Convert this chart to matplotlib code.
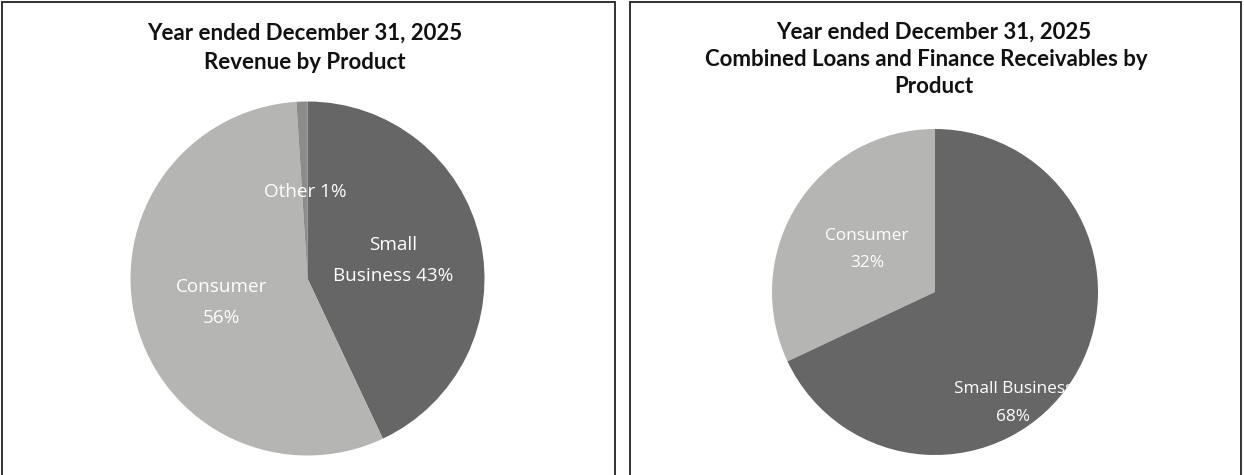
import matplotlib
matplotlib.use("Agg")
import matplotlib.pyplot as plt
from matplotlib.patches import Rectangle

# ---- data ----
rev_labels = ["Small\nBusiness 43%", "Consumer\n56%", "Other 1%"]
rev_values = [43, 56, 1]
rev_colors = ["#666666", "#B5B5B3", "#8C8C8C"]

loan_labels = ["Consumer\n32%", "Small Business\n68%"]
loan_values = [32, 68]
loan_colors = ["#B5B5B3", "#666666"]

title_left = ["Year ended December 31, 2025", "Revenue by Product"]
title_right = ["Year ended December 31, 2025",
               "Combined Loans and Finance Receivables by",
               "Product"]

# label placement (axes data units, pie radius = 1)
rev_label_pos = [(0.486, 0.1), (-0.486, -0.135), (-0.01, 0.49)]
loan_label_pos = [(-0.417, 0.26), (0.48, -0.68)]

W, H = 1244, 475
fig = plt.figure(figsize=(W / 100, H / 100), dpi=100)

def fx(px):
    return px / W

def fy(py):
    return 1 - py / H

# panel borders
for x0, x1 in [(2, 615), (630, 1241)]:
    fig.patches.append(Rectangle((fx(x0), fy(490)), fx(x1 - x0), fy(2) - fy(490),
                                 transform=fig.transFigure, fill=False,
                                 edgecolor="#222222", linewidth=1.3))

title_font = dict(family="Lato", weight="bold", size=16.0, color="#111111",
                  ha="center", va="baseline")
# left title lines (baselines in px)
for line, base in zip(title_left, [40, 69]):
    fig.text(fx(305), fy(base), line, **title_font)
# right title lines; the wrapped second line sits a little left, as in the original
for line, base, xc in zip(title_right, [39, 66, 93], [934, 926, 934]):
    fig.text(fx(xc), fy(base), line, **title_font)

lab_font = "Open Sans"

# left pie
cx, cy, r = 307.5, 278.5, 177
axL = fig.add_axes([fx(cx - r), fy(cy + r), fx(2 * r), fy(cy - r) - fy(cy + r)])
wedges, texts = axL.pie(rev_values, colors=rev_colors, startangle=90,
                        counterclock=False, labels=rev_labels, labeldistance=0.5,
                        textprops=dict(color="white", family=lab_font, size=13.6,
                                       linespacing=1.95),
                        wedgeprops=dict(linewidth=0))
for t, p in zip(texts, rev_label_pos):
    t.set_ha("center")
    t.set_va("center")
    t.set_position(p)
axL.set_xlim(-1, 1)
axL.set_ylim(-1, 1)
axL.set_aspect("equal")
axL.axis("off")

# right pie
cx, cy, r = 935, 292, 163
axR = fig.add_axes([fx(cx - r), fy(cy + r), fx(2 * r), fy(cy - r) - fy(cy + r)])
wedges, texts = axR.pie(loan_values, colors=loan_colors, startangle=90,
                        counterclock=True, labels=loan_labels, labeldistance=0.5,
                        textprops=dict(color="white", family=lab_font, size=12.4,
                                       linespacing=1.95),
                        wedgeprops=dict(linewidth=0))
for t, p in zip(texts, loan_label_pos):
    t.set_ha("center")
    t.set_va("center")
    t.set_position(p)
# small business label clipped at the plot-area edge, as in the original
clip = Rectangle((-1.2, -1.2), 2.05, 2.4, transform=axR.transData)
texts[1].set_clip_path(clip)
axR.set_xlim(-1, 1)
axR.set_ylim(-1, 1)
axR.set_aspect("equal")
axR.axis("off")

fig.savefig("out.png", dpi=100)
